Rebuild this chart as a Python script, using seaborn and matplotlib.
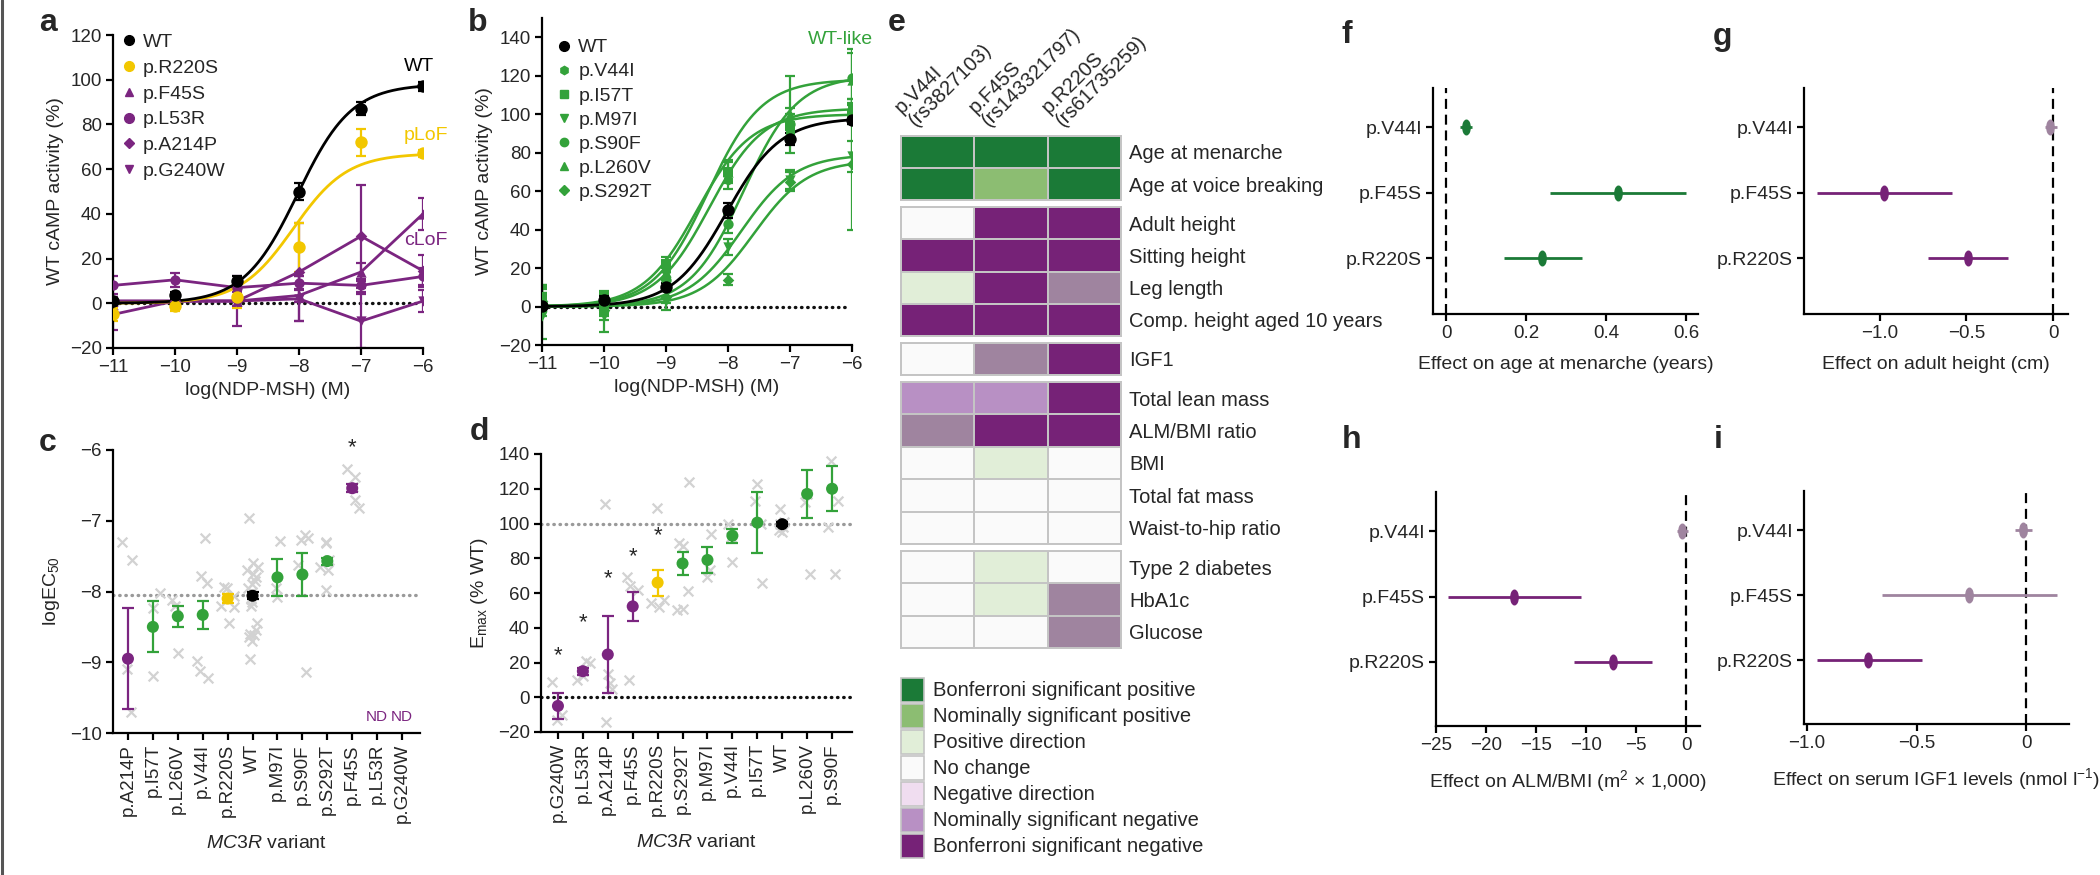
import numpy as np
import pandas as pd
import matplotlib
matplotlib.use('Agg')
import matplotlib.pyplot as plt
import seaborn as sns
from matplotlib.colors import ListedColormap
from matplotlib.markers import MarkerStyle
from matplotlib.transforms import Affine2D
from matplotlib.patches import Rectangle
from matplotlib.lines import Line2D

# ====================== DATA ======================
conc = [-11, -10, -9, -8, -7, -6]
conc_ticks = [-11, -10, -9, -8, -7, -6]

# panel a : WT, pLoF and cLoF responses (% WT cAMP activity)
a_wt = [1, 3.5, 10, 50, 87, 97]
a_wt_err = [1.5, 1.5, 2, 4, 3, 2]
a_r220s = [-5, -1, 3, 25, 72, 67]
a_r220s_err = [3, 2.5, 5, 11, 6, 1.5]
a_f45s = [1, 1, 1, 3.5, 14, 40]
a_f45s_err = [2, 2, 2, 3, 4, 7]
a_l53r = [8, 10.5, 7, 9, 8, 12]
a_l53r_err = [4, 3, 2, 3, 3, 4]
a_a214p = [1, 1, 1, 14, 30, 14.5]
a_a214p_err = [2, 2, 2, 22, 23, 7]
a_g240w = [-5, 1, 1, 2, -8, 1]
a_g240w_err = [7, 3, 11, 10, 12, 5]
# fitted curves: (bottom, top, logEC50)
fit_wt = (0, 98, -8.02)
fit_r220s = (0, 67, -8.09)

# panel b : WT-like variants
b_labels = ['WT', 'p.V44I', 'p.I57T', 'p.M97I', 'p.S90F', 'p.L260V', 'p.S292T']
b_wt = [0.5, 3.5, 10, 50, 87, 97]
b_wt_err = [1, 2, 2, 4, 3, 2]
b_v44i = [3, 1, 19, 66, 90, 103]
b_v44i_err = [8, 5, 4, 5, 4, 5]
b_i57t = [5, 0, 22, 70, 94, 100]
b_i57t_err = [6, 5, 4, 5, 6, 5]
b_m97i = [-5, -5, 3, 31, 66, 78]
b_m97i_err = [12, 8, 5, 4, 5, 8]
b_s90f = [2, 2, 14, 43, 95, 119]
b_s90f_err = [5, 5, 4, 5, 8, 13]
b_l260v = [4, 3, 18, 70, 100, 118]
b_l260v_err = [6, 5, 4, 6, 20, 16]
b_s292t = [3, -2, 5, 14, 65, 74]
b_s292t_err = [6, 5, 3, 3, 5, 34]
b_top = [103, 100, 79, 120, 118, 76]
b_logec50 = [-8.3, -8.5, -7.78, -7.75, -8.33, -7.58]

# panel c : logEC50
c_variants = ['p.A214P', 'p.I57T', 'p.L260V', 'p.V44I', 'p.R220S', 'WT',
              'p.M97I', 'p.S90F', 'p.S292T', 'p.F45S', 'p.L53R', 'p.G240W']
c_mean = [-8.95, -8.5, -8.35, -8.33, -8.1, -8.06, -7.8, -7.76, -7.57, -6.54, np.nan, np.nan]
c_sd = [0.71, 0.36, 0.15, 0.2, 0.06, 0.05, 0.26, 0.3, 0.05, 0.06, np.nan, np.nan]
c_reps = {
    'p.A214P': [-7.3, -7.55, -9.1, -9.7],
    'p.I57T': [-8.02, -8.24, -9.2],
    'p.L260V': [-8.12, -8.2, -8.87],
    'p.V44I': [-7.24, -7.88, -7.78, -8.98, -9.12, -9.22],
    'p.R220S': [-7.93, -7.95, -8.22, -8.2, -8.44, -8.07],
    'WT': [-6.96, -7.6, -7.65, -7.7, -7.75, -7.8, -7.85, -7.9, -7.95, -8.0, -8.1,
           -8.15, -8.2, -8.45, -8.55, -8.6, -8.62, -8.65, -8.7, -8.95],
    'p.M97I': [-7.28, -7.95, -8.08],
    'p.S90F': [-7.2, -7.27, -7.25, -7.62, -9.14],
    'p.S292T': [-7.3, -7.32, -7.56, -7.7, -7.98, -7.65],
    'p.F45S': [-6.27, -6.38, -6.52, -6.7, -6.82],
}
c_wt_line = -8.05
c_star = {'p.F45S': -5.97}
c_nd = ['p.L53R', 'p.G240W']

# panel d : Emax (% WT)
d_variants = ['p.G240W', 'p.L53R', 'p.A214P', 'p.F45S', 'p.R220S', 'p.S292T',
              'p.M97I', 'p.V44I', 'p.I57T', 'WT', 'p.L260V', 'p.S90F']
d_mean = [-5, 15, 24.6, 52.3, 66, 77, 79, 93, 100.5, 99.6, 117, 120]
d_sd = [7.5, 2, 22, 8.5, 7.5, 6.5, 7.5, 4, 17.5, 1, 14, 13]
d_reps = {
    'p.G240W': [9, -10, -13],
    'p.L53R': [21, 20, 15, 12, 10],
    'p.A214P': [111, 13.6, 8, 5, -14],
    'p.F45S': [69, 64, 62, 10],
    'p.R220S': [109, 56, 54, 52],
    'p.S292T': [124, 89, 87, 61, 50, 51],
    'p.M97I': [94, 73, 69],
    'p.V44I': [100, 77.6, 92],
    'p.I57T': [123, 113, 66, 100],
    'WT': [108.6, 98, 96, 95, 100, 101],
    'p.L260V': [112.6, 117, 70.7],
    'p.S90F': [136, 113, 98, 71],
}
d_star = {'p.G240W': 24, 'p.L53R': 43, 'p.A214P': 68, 'p.F45S': 81, 'p.R220S': 93}

# panel e : association heatmap
heat_columns = ['p.V44I\n(rs3827103)', 'p.F45S\n(rs143321797)', 'p.R220S\n(rs61735259)']
heat_traits = ['Age at menarche', 'Age at voice breaking', 'Adult height', 'Sitting height',
               'Leg length', 'Comp. height aged 10 years', 'IGF1', 'Total lean mass',
               'ALM/BMI ratio', 'BMI', 'Total fat mass', 'Waist-to-hip ratio',
               'Type 2 diabetes', 'HbA1c', 'Glucose']
heat_v44i = ['B+', 'B+', '0', 'B-', '+', 'B-', '0', 'N-', 'N-*', '0', '0', '0', '0', '0', '0']
heat_f45s = ['B+', 'N+', 'B-', 'B-', 'B-', 'B-', 'N-*', 'N-', 'B-', '+', '0', '0', '+', '+', '0']
heat_r220s = ['B+', 'B+', 'B-', 'B-', 'N-*', 'B-', 'B-', 'B-', 'B-', '0', '0', '0', '0', 'N-*', 'N-*']
heat_group_sizes = [2, 4, 1, 5, 3]
legend_codes = ['B+', 'N+', '+', '0', '-', 'N-', 'B-']
legend_labels = ['Bonferroni significant positive', 'Nominally significant positive',
                 'Positive direction', 'No change', 'Negative direction',
                 'Nominally significant negative', 'Bonferroni significant negative']

# panels f-i : effect sizes (estimate, lower CI, upper CI)
forest_variants = ['p.V44I', 'p.F45S', 'p.R220S']
f_est = [0.05, 0.43, 0.24]
f_lo = [0.035, 0.26, 0.145]
f_hi = [0.065, 0.60, 0.34]
f_cat = ['B+', 'B+', 'B+']
f_ticks = [0, 0.2, 0.4, 0.6]
f_ticklabels = ['0', '0.2', '0.4', '0.6']
g_est = [-0.017, -0.977, -0.49]
g_lo = [-0.046, -1.364, -0.72]
g_hi = [0.023, -0.584, -0.26]
g_cat = ['N-*', 'B-', 'B-']
g_ticks = [-1.0, -0.5, 0]
g_ticklabels = ['\u22121.0', '\u22120.5', '0']
h_est = [-0.4, -17.2, -7.3]
h_lo = [-0.9, -23.8, -11.2]
h_hi = [0.2, -10.5, -3.4]
h_cat = ['N-*', 'B-', 'B-']
h_ticks = [-25, -20, -15, -10, -5, 0]
h_ticklabels = ['\u221225', '\u221220', '\u221215', '\u221210', '\u22125', '0']
i_est = [-0.014, -0.26, -0.72]
i_lo = [-0.05, -0.66, -0.955]
i_hi = [0.027, 0.14, -0.475]
i_cat = ['N-*', 'N-*', 'B-']
i_ticks = [-1.0, -0.5, 0]
i_ticklabels = ['\u22121.0', '\u22120.5', '0']

# ====================== STYLE ======================
sns.set_theme(style='ticks')
plt.rcParams['font.family'] = ['Liberation Sans', 'DejaVu Sans']
plt.rcParams.update({
    'mathtext.fontset': 'custom',
    'mathtext.rm': 'Liberation Sans',
    'mathtext.it': 'Liberation Sans:italic',
    'mathtext.bf': 'Liberation Sans:bold',
    'axes.unicode_minus': True,
})

BLACK = '#111111'
GREEN = '#33A23A'
YELLOW = '#F2C700'
PURPLE = '#7B2580'
GREY_X = '#D2D2D2'
DOT_GREY = '#9A9A9A'
code_colors = {'B+': '#1B7A37', 'N+': '#8CBD72', '+': '#E1EED8', '0': '#FAFAFA',
               '-': '#F0DDF0', 'N-': '#B890C4', 'N-*': '#9F849F', 'B-': '#762277'}
code_order = ['B-', 'N-*', 'N-', '-', '0', '+', 'N+', 'B+']

TICK = 13.5
LAB = 14
HEAT = 14.5

W, H = 2100, 875
fig = plt.figure(figsize=(21, 8.75), dpi=100)


def add_ax(l, t, r, b):
    return fig.add_axes([l / W, 1 - b / H, (r - l) / W, (b - t) / H])


def style(ax):
    sns.despine(ax=ax)
    for s in ['left', 'bottom']:
        ax.spines[s].set_linewidth(1.6)
        ax.spines[s].set_color('black')
    ax.tick_params(width=1.6, length=5, labelsize=TICK, color='black', pad=3)


def hill(x, bottom, top, logec50):
    return bottom + (top - bottom) / (1 + 10 ** (logec50 - x))


def fmt_minus(v):
    return ('%g' % v).replace('-', '\u2212')


def dotted(ax, x0, x1, y, color):
    ax.plot([x0, x1], [y, y], color=color, lw=2.4, ls=(0, (0.15, 1.7)),
            dash_capstyle='round', zorder=1)


xs = np.linspace(-11, -6, 300)

# ====================== PANEL a ======================
ax = add_ax(113, 35, 423, 348)
dotted(ax, -11, -6.12, 0, BLACK)
purple_series = [(a_f45s, a_f45s_err, '^'), (a_l53r, a_l53r_err, 'o'),
                 (a_a214p, a_a214p_err, 'D'), (a_g240w, a_g240w_err, 'v')]
for vals, err, m in purple_series:
    sns.lineplot(x=conc, y=vals, color=PURPLE, lw=2, ax=ax)
    ax.errorbar(conc, vals, yerr=err, fmt='none', ecolor=PURPLE, elinewidth=1.6,
                capsize=3.5, capthick=1.6)
    sns.scatterplot(x=conc, y=vals, marker=m, color=PURPLE, s=55 if m != 'D' else 35,
                    linewidth=0, ax=ax, zorder=5)
sns.lineplot(x=xs, y=hill(xs, *fit_r220s), color=YELLOW, lw=2, ax=ax)
ax.errorbar(conc, a_r220s, yerr=a_r220s_err, fmt='none', ecolor=YELLOW, elinewidth=1.6,
            capsize=3.5, capthick=1.6)
sns.scatterplot(x=conc, y=a_r220s, color=YELLOW, s=80, linewidth=0, ax=ax, zorder=5)
sns.lineplot(x=xs, y=hill(xs, *fit_wt), color='black', lw=2, ax=ax)
ax.errorbar(conc, a_wt, yerr=a_wt_err, fmt='none', ecolor='black', elinewidth=1.6,
            capsize=3.5, capthick=1.6)
sns.scatterplot(x=conc, y=a_wt, color='black', s=80, linewidth=0, ax=ax, zorder=6)
ax.set_xlim(-11, -6)
ax.set_ylim(-20, 120)
ax.set_yticks(range(-20, 121, 20))
ax.set_yticklabels([fmt_minus(v) for v in range(-20, 121, 20)])
ax.set_xticks(conc_ticks)
ax.set_xticklabels([fmt_minus(v) for v in conc_ticks])
ax.set_xlabel('log(NDP-MSH) (M)', fontsize=LAB, labelpad=4)
ax.set_ylabel('WT cAMP activity (%)', fontsize=LAB, labelpad=4)
style(ax)
ax.text(-6.07, 106, 'WT', color='black', fontsize=LAB, ha='center', va='center')
ax.text(-5.95, 75, 'pLoF', color=YELLOW, fontsize=LAB, ha='center', va='center')
ax.text(-5.95, 28, 'cLoF', color=PURPLE, fontsize=LAB, ha='center', va='center')
h_a = [Line2D([], [], ls='none', marker='o', color='black', ms=7),
       Line2D([], [], ls='none', marker='o', color=YELLOW, ms=7),
       Line2D([], [], ls='none', marker='^', color=PURPLE, ms=6),
       Line2D([], [], ls='none', marker='o', color=PURPLE, ms=7),
       Line2D([], [], ls='none', marker='D', color=PURPLE, ms=5),
       Line2D([], [], ls='none', marker='v', color=PURPLE, ms=6)]
ax.legend(h_a, ['WT', 'p.R220S', 'p.F45S', 'p.L53R', 'p.A214P', 'p.G240W'],
          loc='upper left', bbox_to_anchor=(0.0, 1.03), frameon=False, fontsize=LAB,
          handlelength=0.8, handletextpad=0.35, labelspacing=0.42, borderpad=0.2,
          borderaxespad=0.2)

# ====================== PANEL b ======================
ax = add_ax(542, 18, 852, 345)
dotted(ax, -11, -6.12, 0, BLACK)
b_series = [(b_v44i, b_v44i_err, 'h'), (b_i57t, b_i57t_err, 's'), (b_m97i, b_m97i_err, 'v'),
            (b_s90f, b_s90f_err, 'o'), (b_l260v, b_l260v_err, '^'), (b_s292t, b_s292t_err, 'D')]
for (vals, err, m), top, ec in zip(b_series, b_top, b_logec50):
    sns.lineplot(x=xs, y=hill(xs, 0, top, ec), color=GREEN, lw=1.8, ax=ax)
    ax.errorbar(conc, vals, yerr=err, fmt='none', ecolor=GREEN, elinewidth=1.6,
                capsize=3.5, capthick=1.6)
    sns.scatterplot(x=conc, y=vals, marker=m, color=GREEN, s=55 if m != 'D' else 35,
                    linewidth=0, ax=ax, zorder=5)
sns.lineplot(x=xs, y=hill(xs, *fit_wt), color='black', lw=2, ax=ax)
ax.errorbar(conc, b_wt, yerr=b_wt_err, fmt='none', ecolor='black', elinewidth=1.6,
            capsize=3.5, capthick=1.6)
sns.scatterplot(x=conc, y=b_wt, color='black', s=80, linewidth=0, ax=ax, zorder=6)
ax.set_xlim(-11, -6)
ax.set_ylim(-20, 150)
ax.set_yticks(range(-20, 141, 20))
ax.set_yticklabels([fmt_minus(v) for v in range(-20, 141, 20)])
ax.set_xticks(conc_ticks)
ax.set_xticklabels([fmt_minus(v) for v in conc_ticks])
ax.set_xlabel('log(NDP-MSH) (M)', fontsize=LAB, labelpad=4)
ax.set_ylabel('WT cAMP activity (%)', fontsize=LAB, labelpad=4)
style(ax)
ax.text(-6.18, 139, 'WT-like', color=GREEN, fontsize=LAB, ha='center', va='center')
h_b = [Line2D([], [], ls='none', marker='o', color='black', ms=7)] + \
      [Line2D([], [], ls='none', marker=m, color=GREEN, ms=6 if m != 'D' else 5)
       for _, _, m in b_series]
ax.legend(h_b, b_labels,
          loc='upper left', bbox_to_anchor=(0.02, 0.96), frameon=False, fontsize=LAB,
          handlelength=0.8, handletextpad=0.35, labelspacing=0.33, borderpad=0.2,
          borderaxespad=0.2)


# ====================== PANELS c and d ======================
def variant_color(v):
    if v == 'WT':
        return 'black'
    if v == 'p.R220S':
        return YELLOW
    if v in ('p.A214P', 'p.F45S', 'p.L53R', 'p.G240W'):
        return PURPLE
    return GREEN


def strip_panel(ax, variants, means, sds, reps):
    rows = [(v, val) for v in variants for val in reps.get(v, [])]
    df = pd.DataFrame(rows, columns=['variant', 'value'])
    np.random.seed(7)
    sns.stripplot(data=df, x='variant', y='value', order=variants, marker='x',
                  color=GREY_X, size=7, linewidth=1.6, jitter=0.28, ax=ax, zorder=2)
    pos = np.arange(len(variants))
    for p, v, mval, sval in zip(pos, variants, means, sds):
        if np.isnan(mval):
            continue
        col = variant_color(v)
        ax.errorbar([p], [mval], yerr=[sval], fmt='none', ecolor=col, elinewidth=1.6,
                    capsize=4, capthick=1.6, zorder=4)
    dfm = pd.DataFrame({'pos': pos, 'mean': means, 'variant': variants}).dropna()
    sns.scatterplot(data=dfm, x='pos', y='mean', hue='variant',
                    palette={v: variant_color(v) for v in variants}, s=75, linewidth=0,
                    legend=False, ax=ax, zorder=5)
    ax.set_xticks(pos)
    ax.set_xticklabels(variants, rotation=90)
    ax.set_xlabel('$\\it{MC3R}$ variant', fontsize=LAB, labelpad=8)


ax = add_ax(113, 450, 420, 733)
ax.axhline(c_wt_line, color=DOT_GREY, lw=2.4, ls=(0, (0.15, 1.7)), dash_capstyle='round', zorder=1)
strip_panel(ax, c_variants, c_mean, c_sd, c_reps)
for v, y in c_star.items():
    ax.text(c_variants.index(v), y, '*', fontsize=LAB + 2, ha='center', va='center')
for v in c_nd:
    ax.text(c_variants.index(v), -9.77, 'ND', color=PURPLE, fontsize=11, ha='center', va='center')
ax.set_xlim(-0.6, 11.72)
ax.set_ylim(-10, -6)
ax.set_yticks([-10, -9, -8, -7, -6])
ax.set_yticklabels([fmt_minus(v) for v in [-10, -9, -8, -7, -6]])
ax.set_ylabel('logEC$_{50}$', fontsize=LAB, labelpad=6)
style(ax)

ax = add_ax(541, 454, 852, 732)
ax.axhline(100, color=DOT_GREY, lw=2.4, ls=(0, (0.15, 1.7)), dash_capstyle='round', zorder=1)
ax.axhline(0, color=BLACK, lw=2.4, ls=(0, (0.15, 1.7)), dash_capstyle='round', zorder=1)
strip_panel(ax, d_variants, d_mean, d_sd, d_reps)
for v, y in d_star.items():
    ax.text(d_variants.index(v), y, '*', fontsize=LAB + 2, ha='center', va='center')
ax.set_xlim(-0.68, 11.8)
ax.set_ylim(-20, 140)
ax.set_yticks(range(-20, 141, 20))
ax.set_yticklabels([fmt_minus(v) for v in range(-20, 141, 20)])
ax.set_ylabel('E$_{\\rm max}$ (% WT)', fontsize=LAB, labelpad=6)
style(ax)

# ====================== PANEL e ======================
cmap = ListedColormap([code_colors[c] for c in code_order])
code_idx = {c: i for i, c in enumerate(code_order)}
heat_df = pd.DataFrame({'v44i': [code_idx[c] for c in heat_v44i],
                        'f45s': [code_idx[c] for c in heat_f45s],
                        'r220s': [code_idx[c] for c in heat_r220s]}, index=heat_traits)
group_px = [(136, 200), (207, 336), (343, 375), (382, 544), (551, 648)]
start = 0
for n, (t, b) in zip(heat_group_sizes, group_px):
    ax = add_ax(900.5, t, 1121, b)
    sub = heat_df.iloc[start:start + n]
    sns.heatmap(sub, cmap=cmap, vmin=-0.5, vmax=len(code_order) - 0.5, cbar=False,
                linewidths=1.4, linecolor='#C4C4C4', ax=ax, xticklabels=False,
                yticklabels=list(sub.index))
    ax.yaxis.tick_right()
    ax.set_yticklabels(list(sub.index), rotation=0, fontsize=HEAT)
    ax.tick_params(axis='y', length=0, pad=6)
    ax.set_xticks([])
    ax.set_xlabel('')
    ax.set_ylabel('')
    for s in ax.spines.values():
        s.set_visible(True)
        s.set_color('#C4C4C4')
        s.set_linewidth(1.4)
    start += n

col_left = [900.5, 974, 1047.5]
for x0, lab in zip(col_left, heat_columns):
    fig.text((x0 + 18) / W, 1 - 130 / H, lab, rotation=45, rotation_mode='anchor',
             ha='left', va='bottom', fontsize=HEAT, linespacing=1.0)

lax = add_ax(900, 676, 1240, 860)
lax.set_xlim(0, 340)
lax.set_ylim(184, 0)
lax.axis('off')
for i, (c, lab) in enumerate(zip(legend_codes, legend_labels)):
    lax.add_patch(Rectangle((0.5, 2 + i * 26), 23.5, 24, facecolor=code_colors[c],
                            edgecolor='#C4C4C4', lw=1.2))
    lax.text(33, 2 + i * 26 + 12.5, lab, fontsize=HEAT, va='center', ha='left')


# ====================== PANELS f-i ======================
ellipse = MarkerStyle('o', transform=Affine2D().scale(0.5, 1.0))


def forest(rect, est, lo, hi, cats, xlim, xticks, xticklabels, xlabel, ylim_bottom):
    ax = add_ax(*rect)
    pos = np.arange(len(forest_variants))
    ax.axvline(0, color='black', lw=1.6, dashes=(4.5, 2.6), zorder=1)
    for p, e, l, h, c in zip(pos, est, lo, hi, cats):
        col = code_colors[c]
        ax.hlines(p, l, h, color=col, lw=2, zorder=3)
        ax.plot([e], [p], ls='none', marker=ellipse, ms=10.5, color=col, mec=col, zorder=4)
    ax.set_yticks(pos)
    ax.set_yticklabels(forest_variants, fontsize=LAB)
    ax.set_ylim(ylim_bottom, -0.6)
    ax.set_xlim(*xlim)
    ax.set_xticks(xticks)
    ax.set_xticklabels(xticklabels)
    ax.set_xlabel(xlabel, fontsize=LAB, labelpad=10)
    style(ax)
    ax.tick_params(axis='y', labelsize=LAB)
    return ax


forest((1433, 88, 1698, 314), f_est, f_lo, f_hi, f_cat, (-0.0325, 0.63),
       f_ticks, f_ticklabels, 'Effect on age at menarche (years)', 2.855)
forest((1804, 88, 2068, 314), g_est, g_lo, g_hi, g_cat, (-1.437, 0.086),
       g_ticks, g_ticklabels, 'Effect on adult height (cm)', 2.855)
forest((1436, 492, 1700, 726), h_est, h_lo, h_hi, h_cat, (-25, 1.4),
       h_ticks, h_ticklabels, 'Effect on ALM/BMI (m$^2$ \u00d7 1,000)', 2.98)
forest((1804, 491, 2069, 724), i_est, i_lo, i_hi, i_cat, (-1.014, 0.196),
       i_ticks, i_ticklabels, 'Effect on serum IGF1 levels (nmol l$^{-1}$)', 2.98)

# ====================== PANEL LETTERS ======================
for lt, x, y in [('a', 48, 23), ('b', 478, 23), ('c', 48, 443), ('d', 479, 432),
                 ('e', 897, 23), ('f', 1347, 35), ('g', 1723, 37), ('h', 1352, 440),
                 ('i', 1718, 440)]:
    fig.text(x / W, 1 - y / H, lt, fontsize=23, fontweight='bold', ha='center', va='center')

fig.add_artist(Line2D([0.0008, 0.0008], [0, 1], color='#555555', lw=2.2))

fig.savefig('out.png', dpi=100)
